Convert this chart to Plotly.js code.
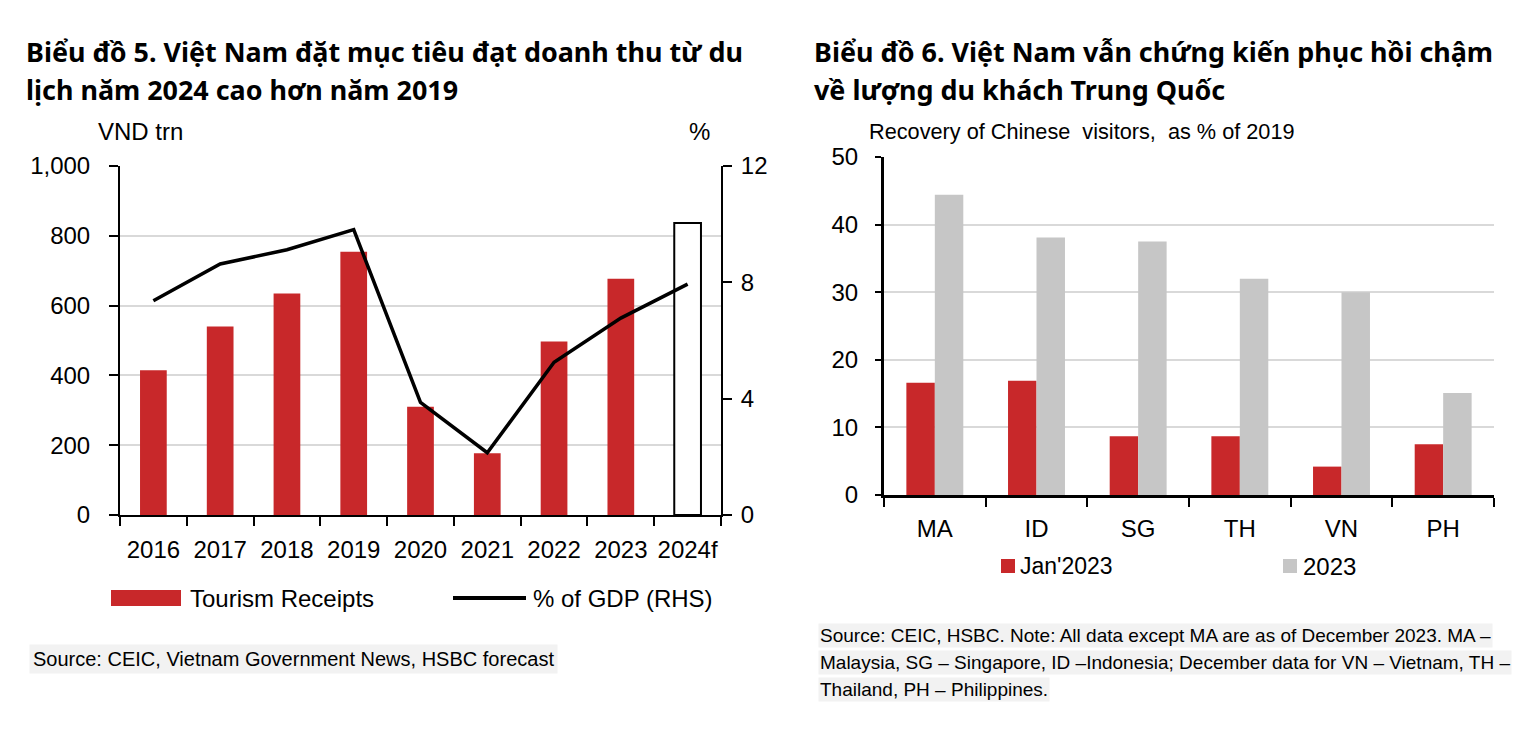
<!DOCTYPE html>
<html>
<head>
<meta charset="utf-8">
<script src="https://cdn.plot.ly/plotly-3.0.1.min.js"></script>
<style>html,body{margin:0;padding:0;background:#fff;}#chart{width:1540px;height:738px;}</style>
</head>
<body>
<div id="chart"></div>
<script>
// ---- Data ----
const years = ['2016','2017','2018','2019','2020','2021','2022','2023','2024f'];
const tourismReceipts = [415, 540, 635, 754, 310, 177, 497, 677, 837];   // VND trn
const gdpShare = [7.37, 8.63, 9.12, 9.81, 3.87, 2.14, 5.25, 6.77, 7.94]; // % of GDP (RHS)

const countries = ['MA', 'ID', 'SG', 'TH', 'VN', 'PH'];
const jan2023 = [16.6, 16.9, 8.7, 8.7, 4.2, 7.5];
const full2023 = [44.4, 38.1, 37.5, 32.0, 30.0, 15.1];

// ---- Style ----
const W = 1540, H = 738;
const RED = '#c8282a', GREY = '#c6c6c6', GRID = '#d9d9d9';
const SANS = 'Liberation Sans, Arial, sans-serif';
const TITLEF = 'Noto Sans, Open Sans, sans-serif';
const px = x => x / W;
const py = y => 1 - y / H;

const forecast = years.map(y => y.endsWith('f'));

const traces = [
  {
    type: 'bar', x: years, y: tourismReceipts, xaxis: 'x', yaxis: 'y',
    name: 'Tourism Receipts', width: 0.4,
    marker: {
      color: forecast.map(f => f ? '#ffffff' : RED),
      line: { color: forecast.map(f => f ? '#000000' : RED), width: forecast.map(f => f ? 2 : 0) }
    },
    showlegend: false, hoverinfo: 'skip'
  },
  {
    type: 'scatter', mode: 'lines', x: years, y: gdpShare, xaxis: 'x', yaxis: 'y2',
    name: '% of GDP (RHS)', line: { color: '#000000', width: 3.5 },
    showlegend: false, hoverinfo: 'skip'
  },
  {
    type: 'bar', x: countries, y: jan2023, xaxis: 'x3', yaxis: 'y3',
    name: "Jan'2023", marker: { color: RED }, showlegend: false, hoverinfo: 'skip'
  },
  {
    type: 'bar', x: countries, y: full2023, xaxis: 'x3', yaxis: 'y3',
    name: '2023', marker: { color: GREY }, showlegend: false, hoverinfo: 'skip'
  }
];

const tickFont = { family: SANS, size: 24, color: '#000' };

const layout = {
  width: W, height: H,
  margin: { l: 0, r: 0, t: 0, b: 0 },
  paper_bgcolor: '#fff', plot_bgcolor: 'rgba(0,0,0,0)',
  barmode: 'group', bargap: 0.44, bargroupgap: 0,
  showlegend: false,
  xaxis: {
    domain: [px(120), px(721)], anchor: 'y', type: 'category', range: [-0.5, 8.5],
    showline: true, linecolor: '#000', linewidth: 2, tickangle: 0,
    ticks: 'outside', tickson: 'boundaries', ticklen: 9, tickwidth: 2, tickcolor: '#000',
    showgrid: false, zeroline: false, tickfont: tickFont, ticklabelstandoff: 12, fixedrange: true
  },
  yaxis: {
    domain: [py(515), py(166)], anchor: 'x', range: [0, 1000], dtick: 200, tickformat: ',',
    showline: true, linecolor: '#000', linewidth: 2,
    ticks: 'outside', ticklen: 9, tickwidth: 2, tickcolor: '#000',
    showgrid: true, gridcolor: GRID, gridwidth: 2, zeroline: false,
    tickfont: tickFont, ticklabelstandoff: 14, fixedrange: true
  },
  yaxis2: {
    overlaying: 'y', anchor: 'x', side: 'right', range: [0, 12], dtick: 4,
    showline: true, linecolor: '#000', linewidth: 2,
    ticks: 'outside', ticklen: 9, tickwidth: 2, tickcolor: '#000',
    showgrid: false, zeroline: false, tickfont: tickFont, ticklabelstandoff: 4, fixedrange: true
  },
  xaxis3: {
    domain: [px(884), px(1494)], anchor: 'y3', type: 'category', range: [-0.5, 5.5],
    showline: true, linecolor: '#000', linewidth: 3, tickangle: 0,
    ticks: 'outside', tickson: 'boundaries', ticklen: 9, tickwidth: 2, tickcolor: '#000',
    showgrid: false, zeroline: false, tickfont: tickFont, ticklabelstandoff: 10, fixedrange: true
  },
  yaxis3: {
    domain: [py(495), py(157)], anchor: 'x3', range: [0, 50], dtick: 10,
    showline: true, linecolor: '#000', linewidth: 3,
    ticks: 'outside', ticklen: 6, tickwidth: 2, tickcolor: '#000',
    showgrid: true, gridcolor: GRID, gridwidth: 2, zeroline: false,
    tickfont: tickFont, ticklabelstandoff: 12, fixedrange: true
  },
  shapes: [
    // left legend swatches
    { type: 'rect', xref: 'paper', yref: 'paper', x0: px(111), x1: px(181), y0: py(606), y1: py(590),
      fillcolor: RED, line: { width: 0 } },
    { type: 'line', xref: 'paper', yref: 'paper', x0: px(453), x1: px(526), y0: py(598), y1: py(598),
      line: { color: '#000', width: 4 } },
    // right legend swatches
    { type: 'rect', xref: 'paper', yref: 'paper', x0: px(1001), x1: px(1015), y0: py(573), y1: py(559),
      fillcolor: RED, line: { width: 0 } },
    { type: 'rect', xref: 'paper', yref: 'paper', x0: px(1283), x1: px(1297), y0: py(573), y1: py(559),
      fillcolor: GREY, line: { width: 0 } }
  ],
  annotations: []
};

function note(text, x, y, opts) {
  layout.annotations.push(Object.assign({
    text: text, xref: 'paper', yref: 'paper', x: px(x), y: py(y),
    xanchor: 'left', yanchor: 'middle', showarrow: false,
    font: { family: SANS, size: 24, color: '#000' }
  }, opts || {}));
}

const titleFont = { family: TITLEF, size: 26.9, color: '#000', weight: 'bold' };
note('Biểu đồ 5. Việt Nam đặt mục tiêu đạt doanh thu từ du', 24, 52, { font: titleFont });
note('lịch năm 2024 cao hơn năm 2019', 24, 89, { font: titleFont });
note('Biểu đồ 6. Việt Nam vẫn chứng kiến phục hồi chậm', 812, 52, { font: titleFont });
note('về lượng du khách Trung Quốc', 812, 89, { font: titleFont });

note('VND trn', 96, 131);
note('%', 699, 131, { xanchor: 'center' });
note('Recovery of Chinese\u00a0 visitors,\u00a0 as % of 2019', 867, 131, { font: { family: SANS, size: 21.7, color: '#000' } });

note('Tourism Receipts', 188, 598);
note('% of GDP (RHS)', 531, 598);
note("Jan'2023", 1018, 566, { font: { family: SANS, size: 23, color: '#000' } });
note('2023', 1301, 566);

const srcFont = { family: SANS, size: 20, color: '#000' };
note('Source: CEIC, Vietnam Government News, HSBC forecast', 29, 659,
  { font: srcFont, bgcolor: '#f2f2f2', borderpad: 3 });
const srcFont2 = { family: SANS, size: 19, color: '#000' };
note('Source: CEIC, HSBC. Note: All data except MA are as of December 2023. MA –', 818, 635,
  { font: srcFont2, bgcolor: '#f2f2f2', borderpad: 1 });
note('Malaysia, SG – Singapore, ID –Indonesia; December data for VN – Vietnam, TH –', 818, 662,
  { font: srcFont2, bgcolor: '#f2f2f2', borderpad: 1 });
note('Thailand, PH – Philippines.', 818, 689,
  { font: srcFont2, bgcolor: '#f2f2f2', borderpad: 1 });

Plotly.newPlot('chart', traces, layout, { displayModeBar: false, staticPlot: true });
</script>
</body>
</html>
